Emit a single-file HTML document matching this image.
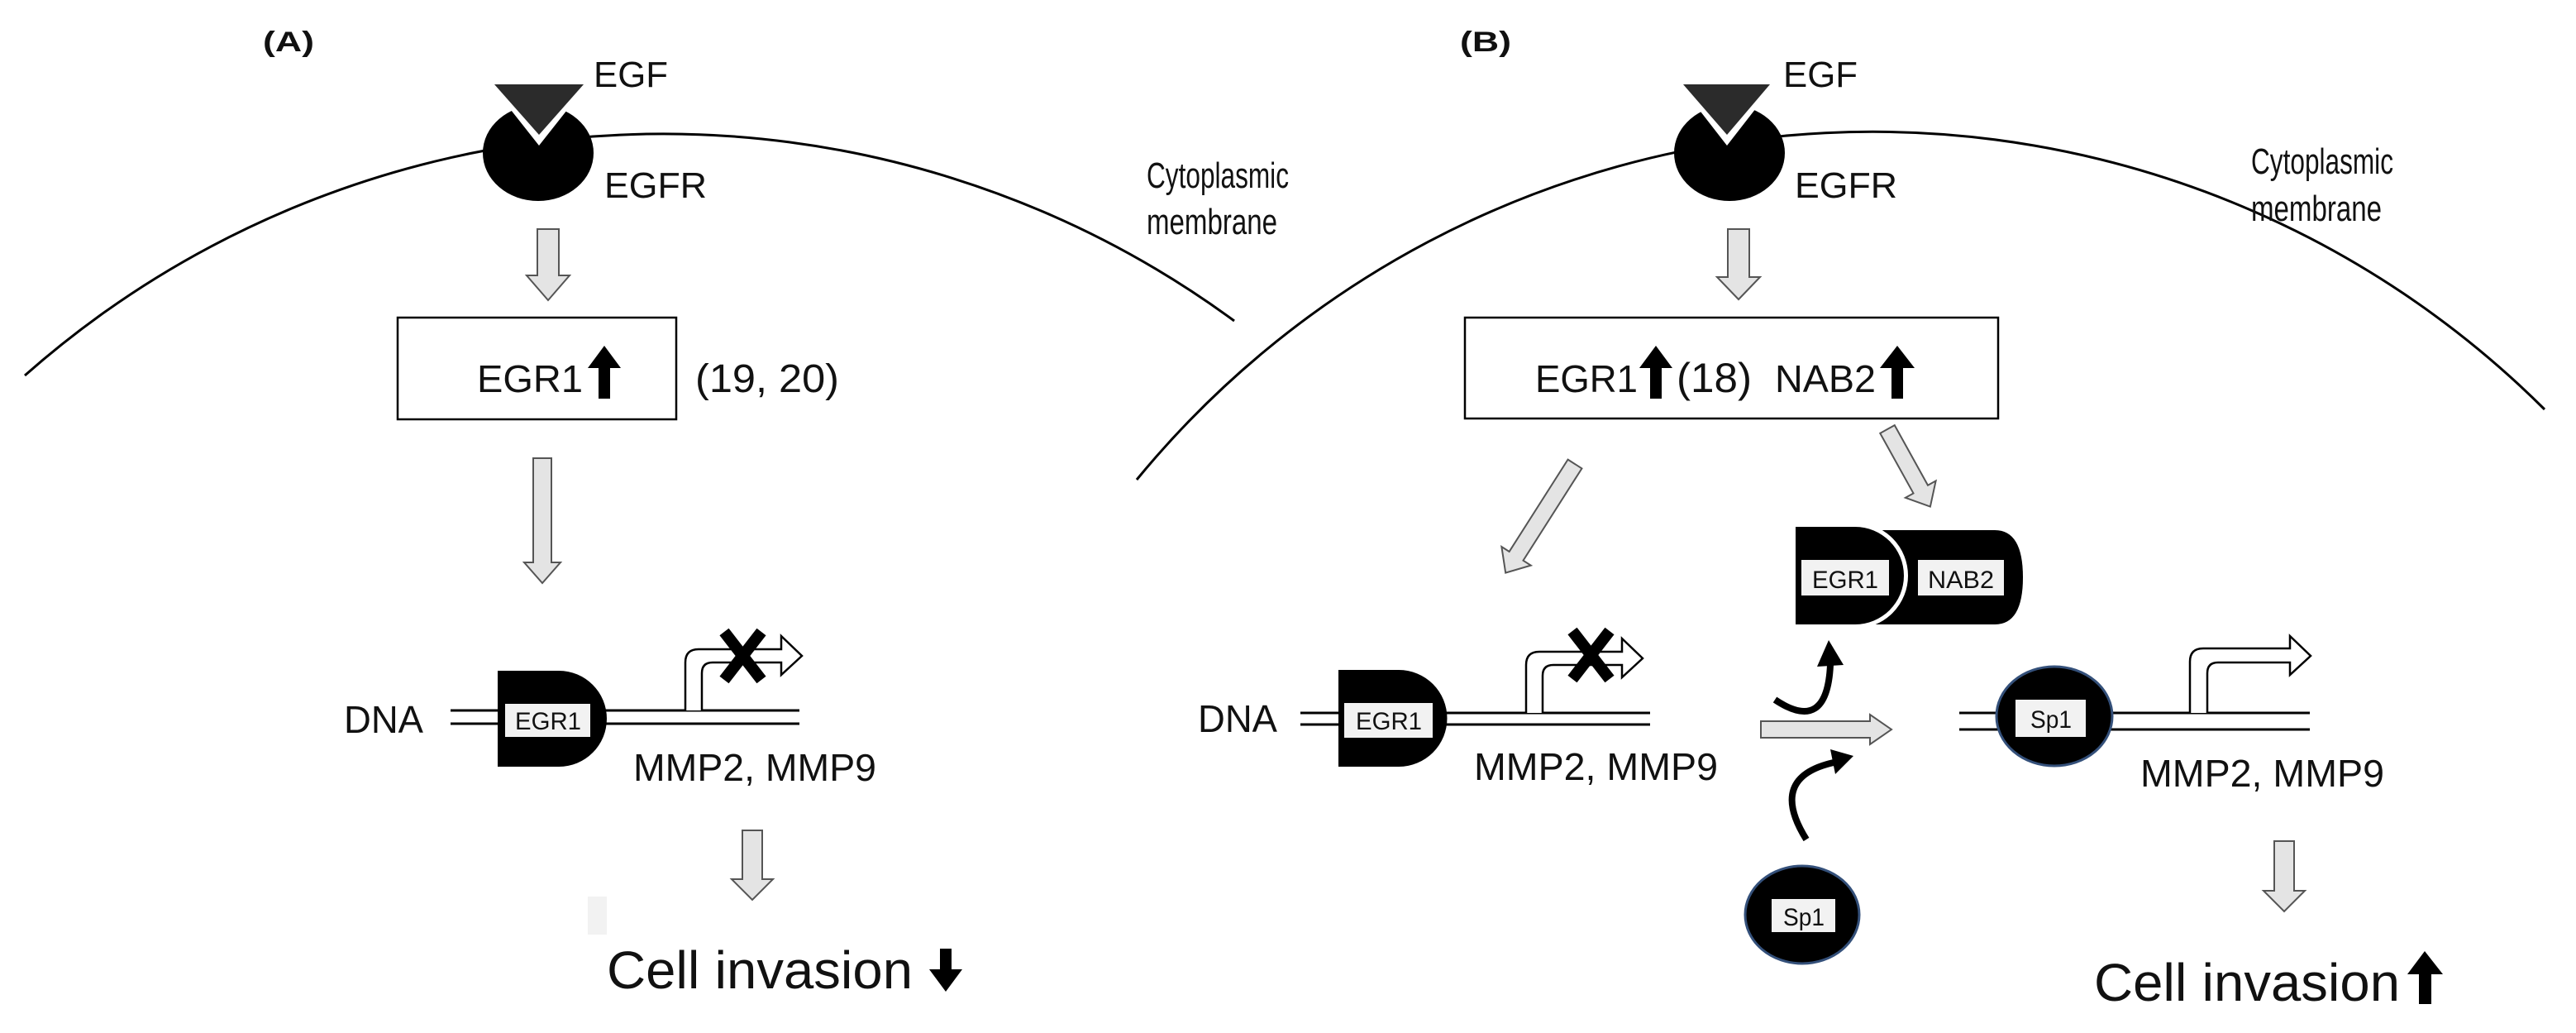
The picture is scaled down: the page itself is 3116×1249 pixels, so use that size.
<!DOCTYPE html>
<html><head><meta charset="utf-8"><style>
html,body{margin:0;padding:0;background:#fff}
svg{display:block}
text{font-family:"Liberation Sans",sans-serif;fill:#111}
</style></head><body>
<svg width="3116" height="1249" viewBox="0 0 3116 1249" xmlns="http://www.w3.org/2000/svg">
<path d="M30,454 A1167.5,1167.5 0 0 1 1493,388" fill="none" stroke="#000" stroke-width="3"/>
<path d="M1375,580 A1152,1152 0 0 1 3078,495" fill="none" stroke="#000" stroke-width="3"/>

<text x="318" y="62" font-size="34" font-weight="bold" textLength="62" lengthAdjust="spacingAndGlyphs">(A)</text>
<ellipse cx="651" cy="185" rx="67" ry="58" fill="#000"/>
<polygon points="588,95 716,95 652,176" fill="#fff"/>
<polygon points="598,102 706,102 652,163" fill="#2b2b2b"/>
<text x="718" y="105" font-size="44" textLength="90" lengthAdjust="spacingAndGlyphs">EGF</text>
<text x="731" y="239" font-size="44" textLength="124" lengthAdjust="spacingAndGlyphs">EGFR</text>
<text x="1387" y="227" font-size="44" textLength="172" lengthAdjust="spacingAndGlyphs">Cytoplasmic</text>
<text x="1387" y="283" font-size="44" textLength="158" lengthAdjust="spacingAndGlyphs">membrane</text>

<polygon points="650,277 676,277 676,333 689,333 663,363 637,333 650,333" fill="#e4e4e4" stroke="#555" stroke-width="2"/>
<rect x="481" y="384" width="337" height="123" fill="#fff" stroke="#000" stroke-width="2.5"/>
<text x="577" y="474" font-size="46" textLength="128" lengthAdjust="spacingAndGlyphs">EGR1</text>
<polygon points="731,418 751,445 738,445 738,482 724,482 724,445 711,445" fill="#000"/>
<text x="841" y="474" font-size="48" textLength="174" lengthAdjust="spacingAndGlyphs">(19, 20)</text>

<polygon points="645,554 667,554 667,680 678,680 656,705 634,680 645,680" fill="#e4e4e4" stroke="#555" stroke-width="2"/>

<text x="416" y="886" font-size="46" textLength="96" lengthAdjust="spacingAndGlyphs">DNA</text>
<line x1="545" y1="859" x2="967" y2="859" stroke="#000" stroke-width="3"/>
<line x1="545" y1="875" x2="967" y2="875" stroke="#000" stroke-width="3"/>
<path d="M602,811 H676 A58,58 0 0 1 676,927 H602 Z" fill="#000"/>
<rect x="611" y="851" width="103" height="40" fill="#f2f2f2"/>
<text x="623" y="882" font-size="30" textLength="80" lengthAdjust="spacingAndGlyphs">EGR1</text>
<path id="prom" d="M829,859 V801 Q829,785 845,785 H945 V769 L970,793 L945,816 V801 H862 Q849,801 849,814 V859" fill="#fff" stroke="#000" stroke-width="2.5"/>
<g stroke="#000" stroke-width="14"><line x1="876" y1="764" x2="921" y2="822"/><line x1="921" y1="764" x2="876" y2="822"/></g>
<text x="766" y="944" font-size="46" textLength="294" lengthAdjust="spacingAndGlyphs">MMP2,  MMP9</text>

<polygon points="898,1004 922,1004 922,1063 935,1063 910,1088 885,1063 898,1063" fill="#e4e4e4" stroke="#555" stroke-width="2"/>
<rect x="711" y="1084" width="23" height="46" fill="#f2f2f2"/>
<text x="734" y="1195" font-size="64" textLength="370" lengthAdjust="spacingAndGlyphs">Cell invasion</text>
<polygon points="1137,1147 1151,1147 1151,1172 1164,1172 1144,1199 1124,1172 1137,1172" fill="#000"/>

<text x="1766" y="62" font-size="34" font-weight="bold" textLength="62" lengthAdjust="spacingAndGlyphs">(B)</text>
<ellipse cx="2092" cy="185" rx="67" ry="58" fill="#000"/>
<polygon points="2026,95 2152,95 2089,176" fill="#fff"/>
<polygon points="2036,102 2141,102 2089,163" fill="#2b2b2b"/>
<text x="2157" y="105" font-size="44" textLength="90" lengthAdjust="spacingAndGlyphs">EGF</text>
<text x="2171" y="239" font-size="44" textLength="124" lengthAdjust="spacingAndGlyphs">EGFR</text>
<text x="2723" y="210" font-size="44" textLength="172" lengthAdjust="spacingAndGlyphs">Cytoplasmic</text>
<text x="2723" y="267" font-size="44" textLength="158" lengthAdjust="spacingAndGlyphs">membrane</text>

<polygon points="2090,277 2116,277 2116,335 2129,335 2103,362 2077,335 2090,335" fill="#e4e4e4" stroke="#555" stroke-width="2"/>
<rect x="1772" y="384" width="645" height="122" fill="#fff" stroke="#000" stroke-width="2.5"/>
<text x="1857" y="474" font-size="46" textLength="124" lengthAdjust="spacingAndGlyphs">EGR1</text>
<polygon points="2003,418 2023,445 2010,445 2010,482 1996,482 1996,445 1983,445" fill="#000"/>
<text x="2028" y="474" font-size="50" textLength="91" lengthAdjust="spacingAndGlyphs">(18)</text>
<text x="2147" y="474" font-size="46" textLength="122" lengthAdjust="spacingAndGlyphs">NAB2</text>
<polygon points="2295,418 2316,445 2302,445 2302,482 2288,482 2288,445 2274,445" fill="#000"/>

<g transform="translate(1905,561) rotate(32.5)"><polygon points="-10,0 10,0 10,132 21,132 0,156 -21,132 -10,132" fill="#e4e4e4" stroke="#555" stroke-width="2"/></g>
<g transform="translate(2283,519) rotate(-29)"><polygon points="-10,0 10,0 10,83 21,83 0,107 -21,83 -10,83" fill="#e4e4e4" stroke="#555" stroke-width="2"/></g>

<path d="M2260,641 H2413 Q2447,641 2447,698 Q2447,755 2413,755 H2260 Z" fill="#000"/>
<path d="M2244,637 A59,59 0 0 1 2244,755" fill="none" stroke="#fff" stroke-width="10"/>
<path d="M2172,637 H2244 A59,59 0 0 1 2244,755 H2172 Z" fill="#000"/>
<rect x="2179" y="677" width="106" height="43" fill="#f2f2f2"/>
<text x="2192" y="711" font-size="30" textLength="80" lengthAdjust="spacingAndGlyphs">EGR1</text>
<rect x="2320" y="677" width="104" height="43" fill="#f2f2f2"/>
<text x="2332" y="711" font-size="30" textLength="80" lengthAdjust="spacingAndGlyphs">NAB2</text>

<text x="1449" y="885" font-size="46" textLength="96" lengthAdjust="spacingAndGlyphs">DNA</text>
<line x1="1573" y1="862" x2="1996" y2="862" stroke="#000" stroke-width="3"/>
<line x1="1573" y1="876" x2="1996" y2="876" stroke="#000" stroke-width="3"/>
<path d="M1619,810 H1692 A58,58 0 0 1 1692,927 H1619 Z" fill="#000"/>
<rect x="1626" y="850" width="107" height="42" fill="#f2f2f2"/>
<text x="1640" y="882" font-size="30" textLength="80" lengthAdjust="spacingAndGlyphs">EGR1</text>
<use href="#prom" transform="translate(1017,3)"/>
<g stroke="#000" stroke-width="14"><line x1="1902" y1="763" x2="1947" y2="821"/><line x1="1947" y1="763" x2="1902" y2="821"/></g>
<text x="1783" y="943" font-size="46" textLength="295" lengthAdjust="spacingAndGlyphs">MMP2,  MMP9</text>

<path d="M2147,846 Q2210,888 2214,804" fill="none" stroke="#000" stroke-width="8"/>
<polygon points="2212,774 2198,806 2230,804" fill="#000"/>
<path d="M2185,1015 Q2138,940 2218,922" fill="none" stroke="#000" stroke-width="8"/>
<polygon points="2242,914 2214,906 2220,936" fill="#000"/>
<polygon points="2130,872 2262,872 2262,864 2288,882 2262,900 2262,892 2130,892" fill="#e4e4e4" stroke="#555" stroke-width="2"/>

<line x1="2370" y1="862" x2="2794" y2="862" stroke="#000" stroke-width="3"/>
<line x1="2370" y1="882" x2="2794" y2="882" stroke="#000" stroke-width="3"/>
<ellipse cx="2485" cy="866" rx="70" ry="60" fill="#000" stroke="#34507a" stroke-width="3"/>
<rect x="2438" y="846" width="85" height="45" fill="#f2f2f2"/>
<text x="2456" y="880" font-size="30" textLength="50" lengthAdjust="spacingAndGlyphs">Sp1</text>
<path d="M2649,862 V800 Q2649,784 2665,784 H2770 V769 L2795,793 L2770,816 V801 H2683 Q2670,801 2670,814 V862" fill="#fff" stroke="#000" stroke-width="2.5"/>
<text x="2589" y="951" font-size="46" textLength="295" lengthAdjust="spacingAndGlyphs">MMP2,  MMP9</text>

<ellipse cx="2180" cy="1106" rx="69" ry="59" fill="#000" stroke="#34507a" stroke-width="3"/>
<rect x="2143" y="1087" width="77" height="40" fill="#f2f2f2"/>
<text x="2157" y="1119" font-size="30" textLength="50" lengthAdjust="spacingAndGlyphs">Sp1</text>

<polygon points="2751,1017 2775,1017 2775,1077 2788,1077 2763,1102 2738,1077 2751,1077" fill="#e4e4e4" stroke="#555" stroke-width="2"/>
<text x="2533" y="1210" font-size="64" textLength="370" lengthAdjust="spacingAndGlyphs">Cell invasion</text>
<polygon points="2933,1150 2955,1178 2941,1178 2941,1214 2926,1214 2926,1178 2912,1178" fill="#000"/>
</svg>
</body></html>
